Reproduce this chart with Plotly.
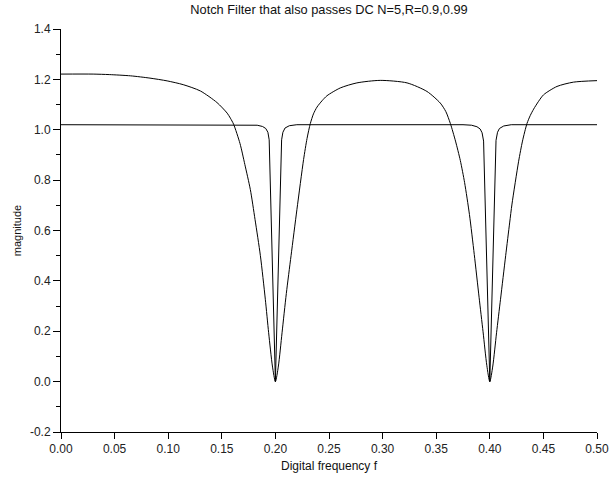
import plotly.graph_objects as go

# R = 0.9 curve
f_r090 = [0.000, 0.030, 0.045, 0.065, 0.083, 0.099, 0.114, 0.130, 0.1455, 0.155, 0.158, 0.161,
          0.167, 0.1715, 0.1766, 0.181, 0.186, 0.1906, 0.1937, 0.1972, 0.200,
          0.2028, 0.2062, 0.2102, 0.2146, 0.2201, 0.2263, 0.2295, 0.2326, 0.2355, 0.2388,
          0.2435, 0.2481, 0.2605, 0.276, 0.2978, 0.3228, 0.3414, 0.3538, 0.3590, 0.3632,
          0.3680, 0.3725, 0.3765, 0.3810, 0.3855, 0.3900, 0.3937, 0.3972, 0.400, 0.4028,
          0.4063, 0.4100, 0.4148, 0.4185, 0.4207, 0.4269, 0.4305, 0.4347, 0.4378, 0.4409,
          0.4455, 0.4502, 0.4627, 0.478, 0.500]
m_r090 = [1.221, 1.221, 1.219, 1.214, 1.205, 1.194, 1.179, 1.154, 1.108, 1.066, 1.046, 1.022,
          0.945, 0.862, 0.763, 0.644, 0.500, 0.327, 0.194, 0.062, 0.000,
          0.062, 0.194, 0.350, 0.500, 0.684, 0.882, 0.965, 1.025, 1.063, 1.090,
          1.115, 1.135, 1.166, 1.186, 1.196, 1.186, 1.152, 1.106, 1.072, 1.025,
          0.955, 0.878, 0.790, 0.664, 0.505, 0.335, 0.198, 0.065, 0.000, 0.062,
          0.194, 0.327, 0.500, 0.630, 0.705, 0.875, 0.955, 1.025, 1.057, 1.082,
          1.113, 1.139, 1.172, 1.189, 1.195]

# R = 0.99 curve
f_r099 = [0.000, 0.175, 0.183, 0.188, 0.191, 0.193, 0.1942, 0.200, 0.2058, 0.207,
          0.209, 0.213, 0.220, 0.375, 0.383, 0.388, 0.391, 0.3928, 0.3942,
          0.400, 0.4058, 0.4072, 0.409, 0.413, 0.420, 0.500]
m_r099 = [1.020, 1.020, 1.018, 1.013, 1.005, 0.990, 0.960, 0.000, 0.960, 0.990,
          1.007, 1.016, 1.020, 1.020, 1.018, 1.012, 1.003, 0.988, 0.955,
          0.000, 0.958, 0.990, 1.005, 1.015, 1.020, 1.020]

x_ticks = [0.00, 0.05, 0.10, 0.15, 0.20, 0.25, 0.30, 0.35, 0.40, 0.45, 0.50]
x_ticklabels = ["0.00", "0.05", "0.10", "0.15", "0.20", "0.25", "0.30", "0.35", "0.40", "0.45", "0.50"]
y_ticks = [-0.2, 0.0, 0.2, 0.4, 0.6, 0.8, 1.0, 1.2, 1.4]
y_ticklabels = ["-0.2", "0.0", "0.2", "0.4", "0.6", "0.8", "1.0", "1.2", "1.4"]
y_minor_ticks = [-0.1, 0.1, 0.3, 0.5, 0.7, 0.9, 1.1, 1.3]

title_text = "Notch Filter that also passes DC N=5,R=0.9,0.99"
x_title = "Digital frequency f"
y_title = "magnitude"

FONT = "Liberation Sans, Arial, sans-serif"

fig = go.Figure()
fig.add_trace(go.Scatter(x=f_r090, y=m_r090, mode="lines", line=dict(color="black", width=1),
                         line_shape="spline", line_smoothing=0.7, showlegend=False))
fig.add_trace(go.Scatter(x=f_r099, y=m_r099, mode="lines", line=dict(color="black", width=1),
                         showlegend=False))

fig.update_layout(
    width=609, height=479,
    margin=dict(l=61, r=12, t=29, b=47, autoexpand=False),
    paper_bgcolor="white", plot_bgcolor="white",
    font=dict(family=FONT, size=12, color="#222222"),
    title=dict(text=title_text, x=0.5, xref="paper", y=0.99, yanchor="top",
               font=dict(family=FONT, size=12.8, color="#111111")),
    showlegend=False,
)
fig.update_xaxes(
    range=[0, 0.5], tickvals=x_ticks, ticktext=x_ticklabels, automargin=False,
    ticklabeloverflow="allow",
    ticks="outside", ticklen=6, tickcolor="black", tickwidth=1,
    showline=True, linecolor="black", linewidth=1, showgrid=False, zeroline=False,
    title=dict(text=x_title, font=dict(family=FONT, size=12, color="#111111"), standoff=6),
)
fig.update_yaxes(
    range=[-0.2, 1.4], tickvals=y_ticks, ticktext=y_ticklabels, automargin=False,
    ticklabeloverflow="allow",
    ticks="outside", ticklen=7, tickcolor="black", tickwidth=1,
    minor=dict(tickvals=y_minor_ticks, ticks="outside", ticklen=4, tickcolor="black",
               showgrid=False),
    showline=True, linecolor="black", linewidth=1, showgrid=False, zeroline=False,
    title=dict(text=y_title, font=dict(family=FONT, size=11, color="#111111"), standoff=6),
)

fig.write_html("out.html", config={"displayModeBar": False},
               post_script="document.body.style.margin='0px';")
